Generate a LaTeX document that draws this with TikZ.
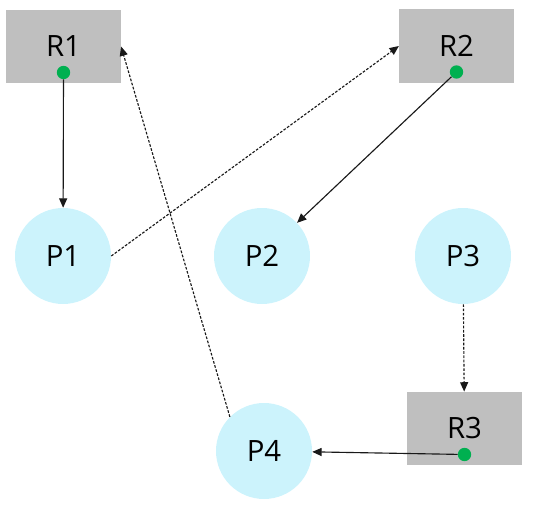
\documentclass[tikz,border=0pt]{standalone}
\usepackage{fontspec}
\setmainfont{Open Sans}
\usepackage{tikz}
\usetikzlibrary{arrows.meta, positioning}
\definecolor{boxgray}{HTML}{BFBFBF}
\definecolor{procblue}{HTML}{CCF3FC}
\definecolor{dotgreen}{HTML}{00B050}
\tikzset{
  res_box/.style={rectangle, fill=boxgray, minimum width=86pt, minimum height=55pt, inner sep=0pt, font=\fontsize{22}{26}\selectfont},
  proc_node/.style={circle, fill=procblue, minimum size=72pt, inner sep=0pt, font=\fontsize{22}{26}\selectfont},
  green_dot/.style={circle, fill=dotgreen, minimum size=10pt, inner sep=0pt},
  hold_arrow/.style={-{Triangle[length=7pt, width=6pt]}, line width=0.85pt, black!90},
  req_arrow/.style={-{Triangle[length=7pt, width=6pt]}, line width=0.85pt, black!90, dash pattern=on 2pt off 1.2pt}
}

\begin{document}
\begin{tikzpicture}[x=0.75pt, y=0.75pt]
  \useasboundingbox (0,0) rectangle (533,512);

  % --- 1. Resources (gray boxes with held-by dot) ---
  \node[res_box] (r1) at (63.5, 465.5) {R1};
  \node[res_box] (r2) at (456.5, 466) {R2};
  \node[res_box] (r3) at (464.5, 83.5) {R3};
  \node[green_dot, above=3pt of r1.south] (r1_dot) {};
  \node[green_dot, above=3pt of r2.south] (r2_dot) {};
  \node[green_dot, above=3pt of r3.south] (r3_dot) {};

  % --- 2. Processes (blue circles) ---
  \node[proc_node] (p1) at (63, 256) {P1};
  \node[proc_node] (p2) at (262, 256) {P2};
  \node[proc_node] (p3) at (463, 256) {P3};
  \node[proc_node] (p4) at (264, 61) {P4};

  % --- 3. Assignment edges (solid) ---
  \draw[hold_arrow] (r1_dot) -- (p1);
  \draw[hold_arrow] (r2_dot) -- (p2);
  \draw[hold_arrow] (r3_dot) -- (p4);

  % --- 4. Request edges (dashed) ---
  \draw[req_arrow] (p1.east) -- (r2.west);
  \draw[req_arrow] (p4.north west) -- (r1.east);
  \draw[req_arrow] (p3) -- (r3);
\end{tikzpicture}
\end{document}
